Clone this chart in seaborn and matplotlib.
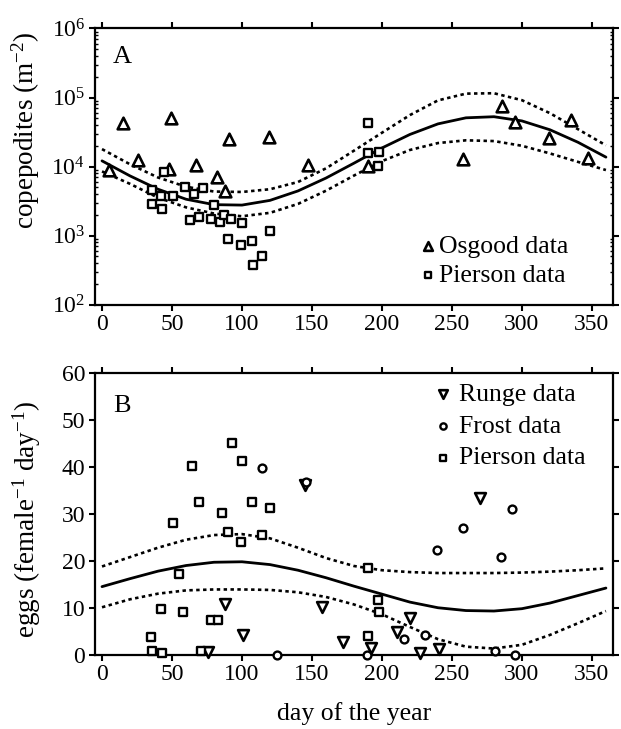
import numpy as np
import pandas as pd
import matplotlib
matplotlib.use('Agg')
import matplotlib.pyplot as plt
import seaborn as sns
from matplotlib.ticker import LogLocator, LogFormatterMathtext, NullFormatter, MultipleLocator

# ---- panel A data (copepodites m-2) ----
osgood_day = [5, 15, 26, 49, 48, 67, 82, 88, 91, 119, 147, 190, 258, 286, 295, 319, 335, 347]
osgood_val = [8950, 43200, 12500, 51000, 9160, 10400, 7030, 4500, 25100, 27200, 10400,
              10200, 12800, 75300, 43800, 25700, 47300, 13500]

piersonA_day = [44, 36, 36, 42, 43, 51, 59, 66, 72, 80, 63, 69, 78, 84, 87, 92, 100,
                90, 99, 107, 120, 114, 108, 190, 190, 198, 197]
piersonA_val = [8300, 4600, 2890, 3690, 2420, 3810, 5140, 4030, 4870, 2790, 1700, 1860,
                1740, 1600, 2010, 1740, 1550, 893, 731, 836, 1150, 513, 380,
                42400, 15900, 16500, 10200]

# fitted curve + band, read every 20 days
curve_day = [0, 20, 40, 60, 80, 100, 120, 140, 160, 180, 200, 220, 240, 260, 280, 300, 320, 340, 360]
fitA = [12100, 7330, 4700, 3370, 2810, 2770, 3240, 4440, 6820, 11200, 18600, 29200,
        41500, 50800, 52700, 45800, 34100, 22500, 13700]
fitA_hi = [17900, 10800, 6950, 5110, 4350, 4290, 4700, 5980, 9420, 17000, 30900, 55700,
           90800, 113800, 115300, 91400, 59300, 34800, 20300]
fitA_lo = [8510, 5620, 3550, 2570, 2090, 1910, 2140, 2880, 4470, 7410, 12000, 17400,
           21900, 24000, 23400, 20000, 15500, 11700, 8910]

# ---- panel B data (eggs female-1 day-1) ----
runge_day = [88, 157, 101, 172, 76, 145, 270, 220, 211, 227, 241, 192]
runge_val = [10.7, 10.2, 4.2, 2.8, 0.6, 36.2, 33.3, 7.8, 4.9, 0.4, 1.2, 1.4]

frost_day = [114, 146, 125, 293, 258, 239, 285, 231, 216, 281, 295, 189]
frost_val = [39.7, 36.9, 0.0, 31.0, 27.1, 22.3, 20.9, 4.2, 3.3, 0.7, 0.0, 0.0]

piersonB_day = [93, 100, 64, 69, 107, 120, 86, 51, 90, 114, 99, 55, 42, 58, 78, 83,
                35, 36, 43, 71, 190, 197, 198, 190]
piersonB_val = [45.1, 41.3, 40.2, 32.6, 32.5, 31.3, 30.3, 28.0, 26.1, 25.5, 24.0, 17.2,
                9.7, 9.0, 7.3, 7.3, 3.8, 0.85, 0.3, 0.8, 18.4, 11.7, 9.0, 4.0]

fitB = [14.5, 16.2, 17.8, 19.0, 19.7, 19.8, 19.2, 18.0, 16.4, 14.6, 12.9, 11.2,
        10.0, 9.4, 9.3, 9.8, 11.0, 12.6, 14.2]
fitB_hi = [18.8, 20.8, 22.8, 24.5, 25.5, 25.7, 24.8, 22.8, 20.6, 18.9, 18.0, 17.6,
           17.4, 17.4, 17.4, 17.5, 17.7, 18.0, 18.4]
fitB_lo = [10.1, 11.8, 13.0, 13.7, 13.9, 13.9, 13.8, 13.3, 12.3, 10.7, 8.6, 5.9,
           3.3, 1.7, 1.3, 2.1, 4.2, 6.7, 9.3]

# style
sns.set_style('ticks', {'axes.edgecolor': 'black', 'xtick.color': 'black', 'ytick.color': 'black',
                        'text.color': 'black', 'axes.labelcolor': 'black'})
plt.rcParams['font.family'] = ['Liberation Serif', 'DejaVu Serif']
plt.rcParams['mathtext.fontset'] = 'custom'
plt.rcParams['mathtext.rm'] = 'Liberation Serif'
plt.rcParams['mathtext.it'] = 'Liberation Serif:italic'
plt.rcParams['font.size'] = 17
plt.rcParams['axes.linewidth'] = 1.6

fig = plt.figure(figsize=(6.21, 7.29), dpi=100)
axA = fig.add_axes([0.153, 0.582, 0.834, 0.379])
axB = fig.add_axes([0.153, 0.102, 0.834, 0.386])

dotted = (0, (1.3, 1.3))


def draw_fit(ax, mid, hi, lo):
    sns.lineplot(x=curve_day, y=mid, color='black', linewidth=2.0, ax=ax, legend=False, zorder=2)
    sns.lineplot(x=curve_day, y=hi, color='black', linewidth=1.9, linestyle=dotted, ax=ax, legend=False, zorder=2)
    sns.lineplot(x=curve_day, y=lo, color='black', linewidth=1.9, linestyle=dotted, ax=ax, legend=False, zorder=2)


def pts(ax, x, y, marker, s, label, lw=1.7):
    sns.scatterplot(x=x, y=y, marker=marker, s=s, color='black', facecolor='white',
                    edgecolor='black', linewidth=lw, ax=ax, label=label, zorder=3, clip_on=False)


# ---- panel A ----
axA.set_yscale('log')
draw_fit(axA, fitA, fitA_hi, fitA_lo)
pts(axA, osgood_day, osgood_val, '^', 70, 'Osgood data', lw=1.9)
pts(axA, piersonA_day, piersonA_val, 's', 30, 'Pierson data')
axA.set_xlim(-5, 365)
axA.set_ylim(1e2, 1e6)
axA.yaxis.set_major_locator(LogLocator(base=10, numticks=10))
axA.yaxis.set_major_formatter(LogFormatterMathtext())
axA.yaxis.set_minor_locator(LogLocator(base=10, subs=np.arange(2, 10), numticks=20))
axA.yaxis.set_minor_formatter(NullFormatter())
axA.set_ylabel('copepodites (m$^{-2}$)', fontsize=19.5)
axA.yaxis.set_label_coords(-0.102, 0.632)
axA.text(0.052, 0.895, 'A', transform=axA.transAxes, ha='center', va='center', fontsize=19)
axA.legend(loc='upper left', bbox_to_anchor=(0.629, 0.253), frameon=False, borderpad=0,
           borderaxespad=0, handlelength=0.55, handletextpad=0.14, labelspacing=0.25,
           markerscale=0.75, fontsize=18.5)

# ---- panel B ----
draw_fit(axB, fitB, fitB_hi, fitB_lo)
pts(axB, runge_day, runge_val, 'v', 60, 'Runge data', lw=1.9)
pts(axB, frost_day, frost_val, 'o', 32, 'Frost data')
pts(axB, piersonB_day, piersonB_val, 's', 30, 'Pierson data')
axB.set_xlim(-5, 365)
axB.set_ylim(0, 60)
axB.yaxis.set_major_locator(MultipleLocator(10))
axB.set_ylabel('eggs (female$^{-1}$ day$^{-1}$)', fontsize=19.5)
axB.yaxis.set_label_coords(-0.10, 0.48)
axB.set_xlabel('day of the year', labelpad=12, fontsize=18.5)
axB.text(0.052, 0.885, 'B', transform=axB.transAxes, ha='center', va='center', fontsize=19)
axB.legend(loc='upper left', bbox_to_anchor=(0.659, 0.966), frameon=False, borderpad=0,
           borderaxespad=0, handlelength=0.55, handletextpad=0.32, labelspacing=0.34,
           markerscale=0.8, fontsize=18.5)

for ax in (axA, axB):
    ax.xaxis.set_major_locator(MultipleLocator(50))
    ax.tick_params(which='major', direction='out', length=4, width=1.5, pad=3,
                   top=True, right=True, labelsize=17)
axA.set_xlabel('')
axA.tick_params(axis='y', which='minor', direction='in', length=2.5, width=1.0, left=True, right=True)

fig.savefig('out.png', dpi=100)
